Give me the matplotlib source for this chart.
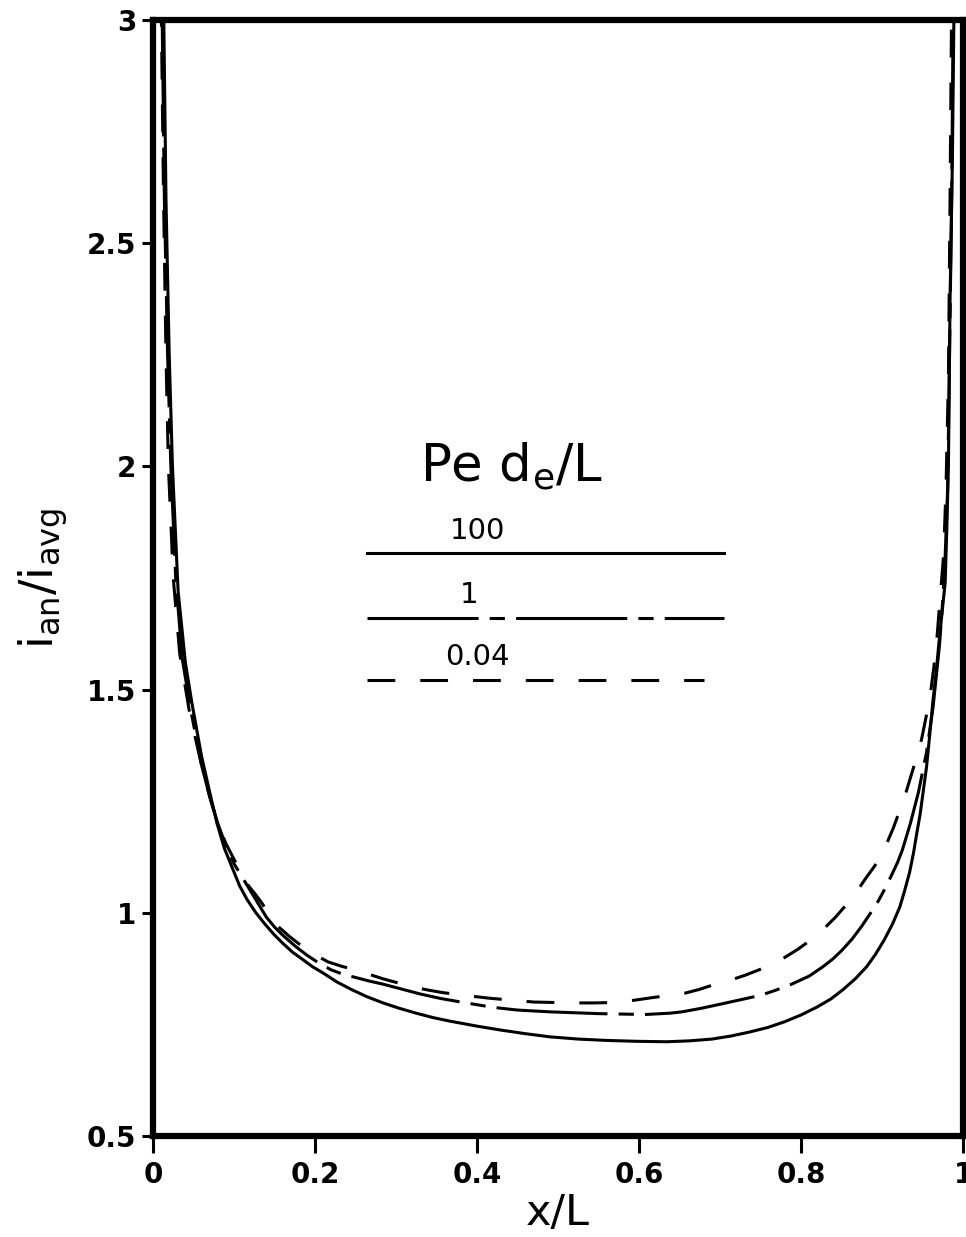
import matplotlib.pyplot as plt

plt.rcParams['font.family'] = ['DejaVu Sans']
plt.rcParams['lines.scale_dashes'] = False
plt.rcParams['mathtext.fontset'] = 'dejavusans'

# Pe d_e/L = 100 (solid)
x_100 = [0.013, 0.016, 0.020, 0.024, 0.031, 0.040, 0.048, 0.060, 0.070, 0.079,
         0.088, 0.098, 0.107, 0.116, 0.127, 0.138, 0.149, 0.160, 0.172, 0.185,
         0.197, 0.210, 0.227, 0.245, 0.264, 0.284, 0.304, 0.325, 0.346, 0.367,
         0.400, 0.430, 0.460, 0.490, 0.525, 0.560, 0.597, 0.634, 0.662, 0.690,
         0.714, 0.737, 0.759, 0.780, 0.800, 0.820, 0.837, 0.852, 0.867, 0.881,
         0.892, 0.903, 0.913, 0.922, 0.928, 0.934, 0.939, 0.943, 0.947, 0.950,
         0.955, 0.959, 0.963, 0.967, 0.970, 0.974, 0.978, 0.980, 0.982, 0.984,
         0.987, 0.989]
y_100 = [3.05, 2.60, 2.25, 2.00, 1.72, 1.56, 1.47, 1.35, 1.27, 1.20,
         1.145, 1.10, 1.06, 1.03, 1.00, 0.975, 0.952, 0.932, 0.912, 0.895,
         0.879, 0.865, 0.845, 0.828, 0.812, 0.798, 0.786, 0.775, 0.765, 0.757,
         0.746, 0.737, 0.729, 0.722, 0.717, 0.714, 0.712, 0.711, 0.713, 0.717,
         0.724, 0.733, 0.743, 0.756, 0.771, 0.789, 0.807, 0.828, 0.852, 0.879,
         0.907, 0.940, 0.975, 1.013, 1.05, 1.09, 1.135, 1.179, 1.22, 1.26,
         1.327, 1.40, 1.477, 1.54, 1.60, 1.67, 1.74, 1.86, 2.00, 2.37,
         2.70, 3.05]

# Pe d_e/L = 1 (dash-dot)
x_1 = [0.011, 0.014, 0.018, 0.022, 0.028, 0.036, 0.047, 0.060, 0.070, 0.080,
       0.090, 0.100, 0.110, 0.120, 0.130, 0.140, 0.150, 0.160, 0.175, 0.190,
       0.205, 0.220, 0.235, 0.250, 0.267, 0.284, 0.307, 0.330, 0.355, 0.380,
       0.400, 0.420, 0.450, 0.490, 0.520, 0.550, 0.580, 0.607, 0.638, 0.653,
       0.677, 0.700, 0.725, 0.750, 0.768, 0.786, 0.810, 0.827, 0.839, 0.850,
       0.863, 0.875, 0.885, 0.895, 0.904, 0.912, 0.919, 0.925, 0.930, 0.935,
       0.940, 0.945, 0.950, 0.955, 0.959, 0.963, 0.967, 0.971, 0.975, 0.978,
       0.981, 0.983, 0.986, 0.988]
y_1 = [3.05, 2.60, 2.25, 2.00, 1.75, 1.57, 1.45, 1.33, 1.26, 1.20,
       1.15, 1.11, 1.08, 1.05, 1.02, 0.99, 0.968, 0.95, 0.926, 0.905,
       0.887, 0.872, 0.862, 0.855, 0.847, 0.840, 0.829, 0.818, 0.808, 0.800,
       0.794, 0.788, 0.782, 0.778, 0.776, 0.774, 0.773, 0.772, 0.775, 0.778,
       0.786, 0.795, 0.805, 0.815, 0.826, 0.838, 0.858, 0.879, 0.896, 0.915,
       0.941, 0.970, 0.997, 1.025, 1.055, 1.085, 1.112, 1.14, 1.17, 1.20,
       1.235, 1.27, 1.315, 1.36, 1.41, 1.46, 1.53, 1.60, 1.70, 1.80,
       1.95, 2.20, 2.60, 3.05]

# Pe d_e/L = 0.04 (dashed)
x_004 = [0.010, 0.013, 0.016, 0.019, 0.025, 0.033, 0.045, 0.060, 0.070, 0.080,
         0.090, 0.100, 0.109, 0.118, 0.127, 0.135, 0.144, 0.154, 0.169, 0.184,
         0.200, 0.216, 0.233, 0.250, 0.267, 0.284, 0.302, 0.320, 0.339, 0.358,
         0.376, 0.394, 0.413, 0.431, 0.450, 0.470, 0.495, 0.520, 0.545, 0.570,
         0.594, 0.617, 0.637, 0.657, 0.674, 0.691, 0.711, 0.731, 0.748, 0.764,
         0.780, 0.796, 0.812, 0.827, 0.842, 0.857, 0.869, 0.881, 0.891, 0.900,
         0.907, 0.914, 0.921, 0.928, 0.933, 0.938, 0.944, 0.949, 0.954, 0.959,
         0.964, 0.968, 0.972, 0.976, 0.979, 0.982, 0.984, 0.986]
y_004 = [3.05, 2.60, 2.25, 2.00, 1.75, 1.58, 1.45, 1.33, 1.26, 1.20,
         1.155, 1.12, 1.09, 1.06, 1.04, 1.02, 0.995, 0.97, 0.946, 0.925,
         0.906, 0.89, 0.880, 0.872, 0.862, 0.852, 0.843, 0.834, 0.827, 0.821,
         0.817, 0.813, 0.809, 0.806, 0.803, 0.800, 0.799, 0.798, 0.798, 0.799,
         0.804, 0.810, 0.815, 0.820, 0.828, 0.838, 0.848, 0.860, 0.872, 0.885,
         0.900, 0.918, 0.939, 0.962, 0.989, 1.02, 1.048, 1.08, 1.105, 1.13,
         1.16, 1.19, 1.225, 1.26, 1.29, 1.32, 1.355, 1.39, 1.435, 1.48,
         1.55, 1.62, 1.71, 1.80, 1.95, 2.20, 2.60, 3.05]

labels = ['100', '1', '0.04']
x_ticks = [0, 0.2, 0.4, 0.6, 0.8, 1]
x_ticklabels = ['0', '0.2', '0.4', '0.6', '0.8', '1']
y_ticks = [0.5, 1, 1.5, 2, 2.5, 3]
y_ticklabels = ['0.5', '1', '1.5', '2', '2.5', '3']

solid = '-'
dashdot = (0, (80, 8, 11, 8))
dashed = (0, (20, 18))
styles = [solid, dashdot, dashed]

fig = plt.figure(figsize=(9.66, 12.37), dpi=100)
ax = fig.add_axes([0.1584, 0.0817, 0.8385, 0.9021])

lw = 2.2
ax.plot(x_100, y_100, color='k', lw=lw, linestyle=solid)
ax.plot(x_1, y_1, color='k', lw=lw, linestyle=dashdot)
ax.plot(x_004, y_004, color='k', lw=lw, linestyle=dashed)

ax.set_xlim(0, 1)
ax.set_ylim(0.5, 3)
ax.set_xticks(x_ticks)
ax.set_xticklabels(x_ticklabels, fontsize=20, fontweight='bold')
ax.set_yticks(y_ticks)
ax.set_yticklabels(y_ticklabels, fontsize=20, fontweight='bold')
ax.tick_params(axis='x', direction='out', length=12, width=2.2, pad=6)
ax.tick_params(axis='y', direction='out', length=8, width=2.2, pad=4)
for s in ax.spines.values():
    s.set_linewidth(4.5)

ax.set_xlabel('x/L', fontsize=31, labelpad=2)
ax.set_ylabel(r'$\mathregular{i_{an}/i_{avg}}$', fontsize=33, labelpad=12)

# key drawn inside the plot
ax.text(0.443, 0.60, r'Pe d$\mathregular{_e}$/L', transform=ax.transAxes,
        fontsize=37, ha='center', va='center')
key_y = [0.522, 0.464, 0.409]
key_end = [0.705, 0.705, 0.680]
label_x = [0.40, 0.39, 0.40]
for lab, st, ky, ke, lx in zip(labels, styles, key_y, key_end, label_x):
    ax.plot([0.264, ke], [ky, ky], transform=ax.transAxes, color='k',
            lw=lw, linestyle=st)
    ax.text(lx, ky + 0.008, lab, transform=ax.transAxes, fontsize=21,
            ha='center', va='bottom')

fig.savefig('out.png', dpi=100, facecolor='white')
